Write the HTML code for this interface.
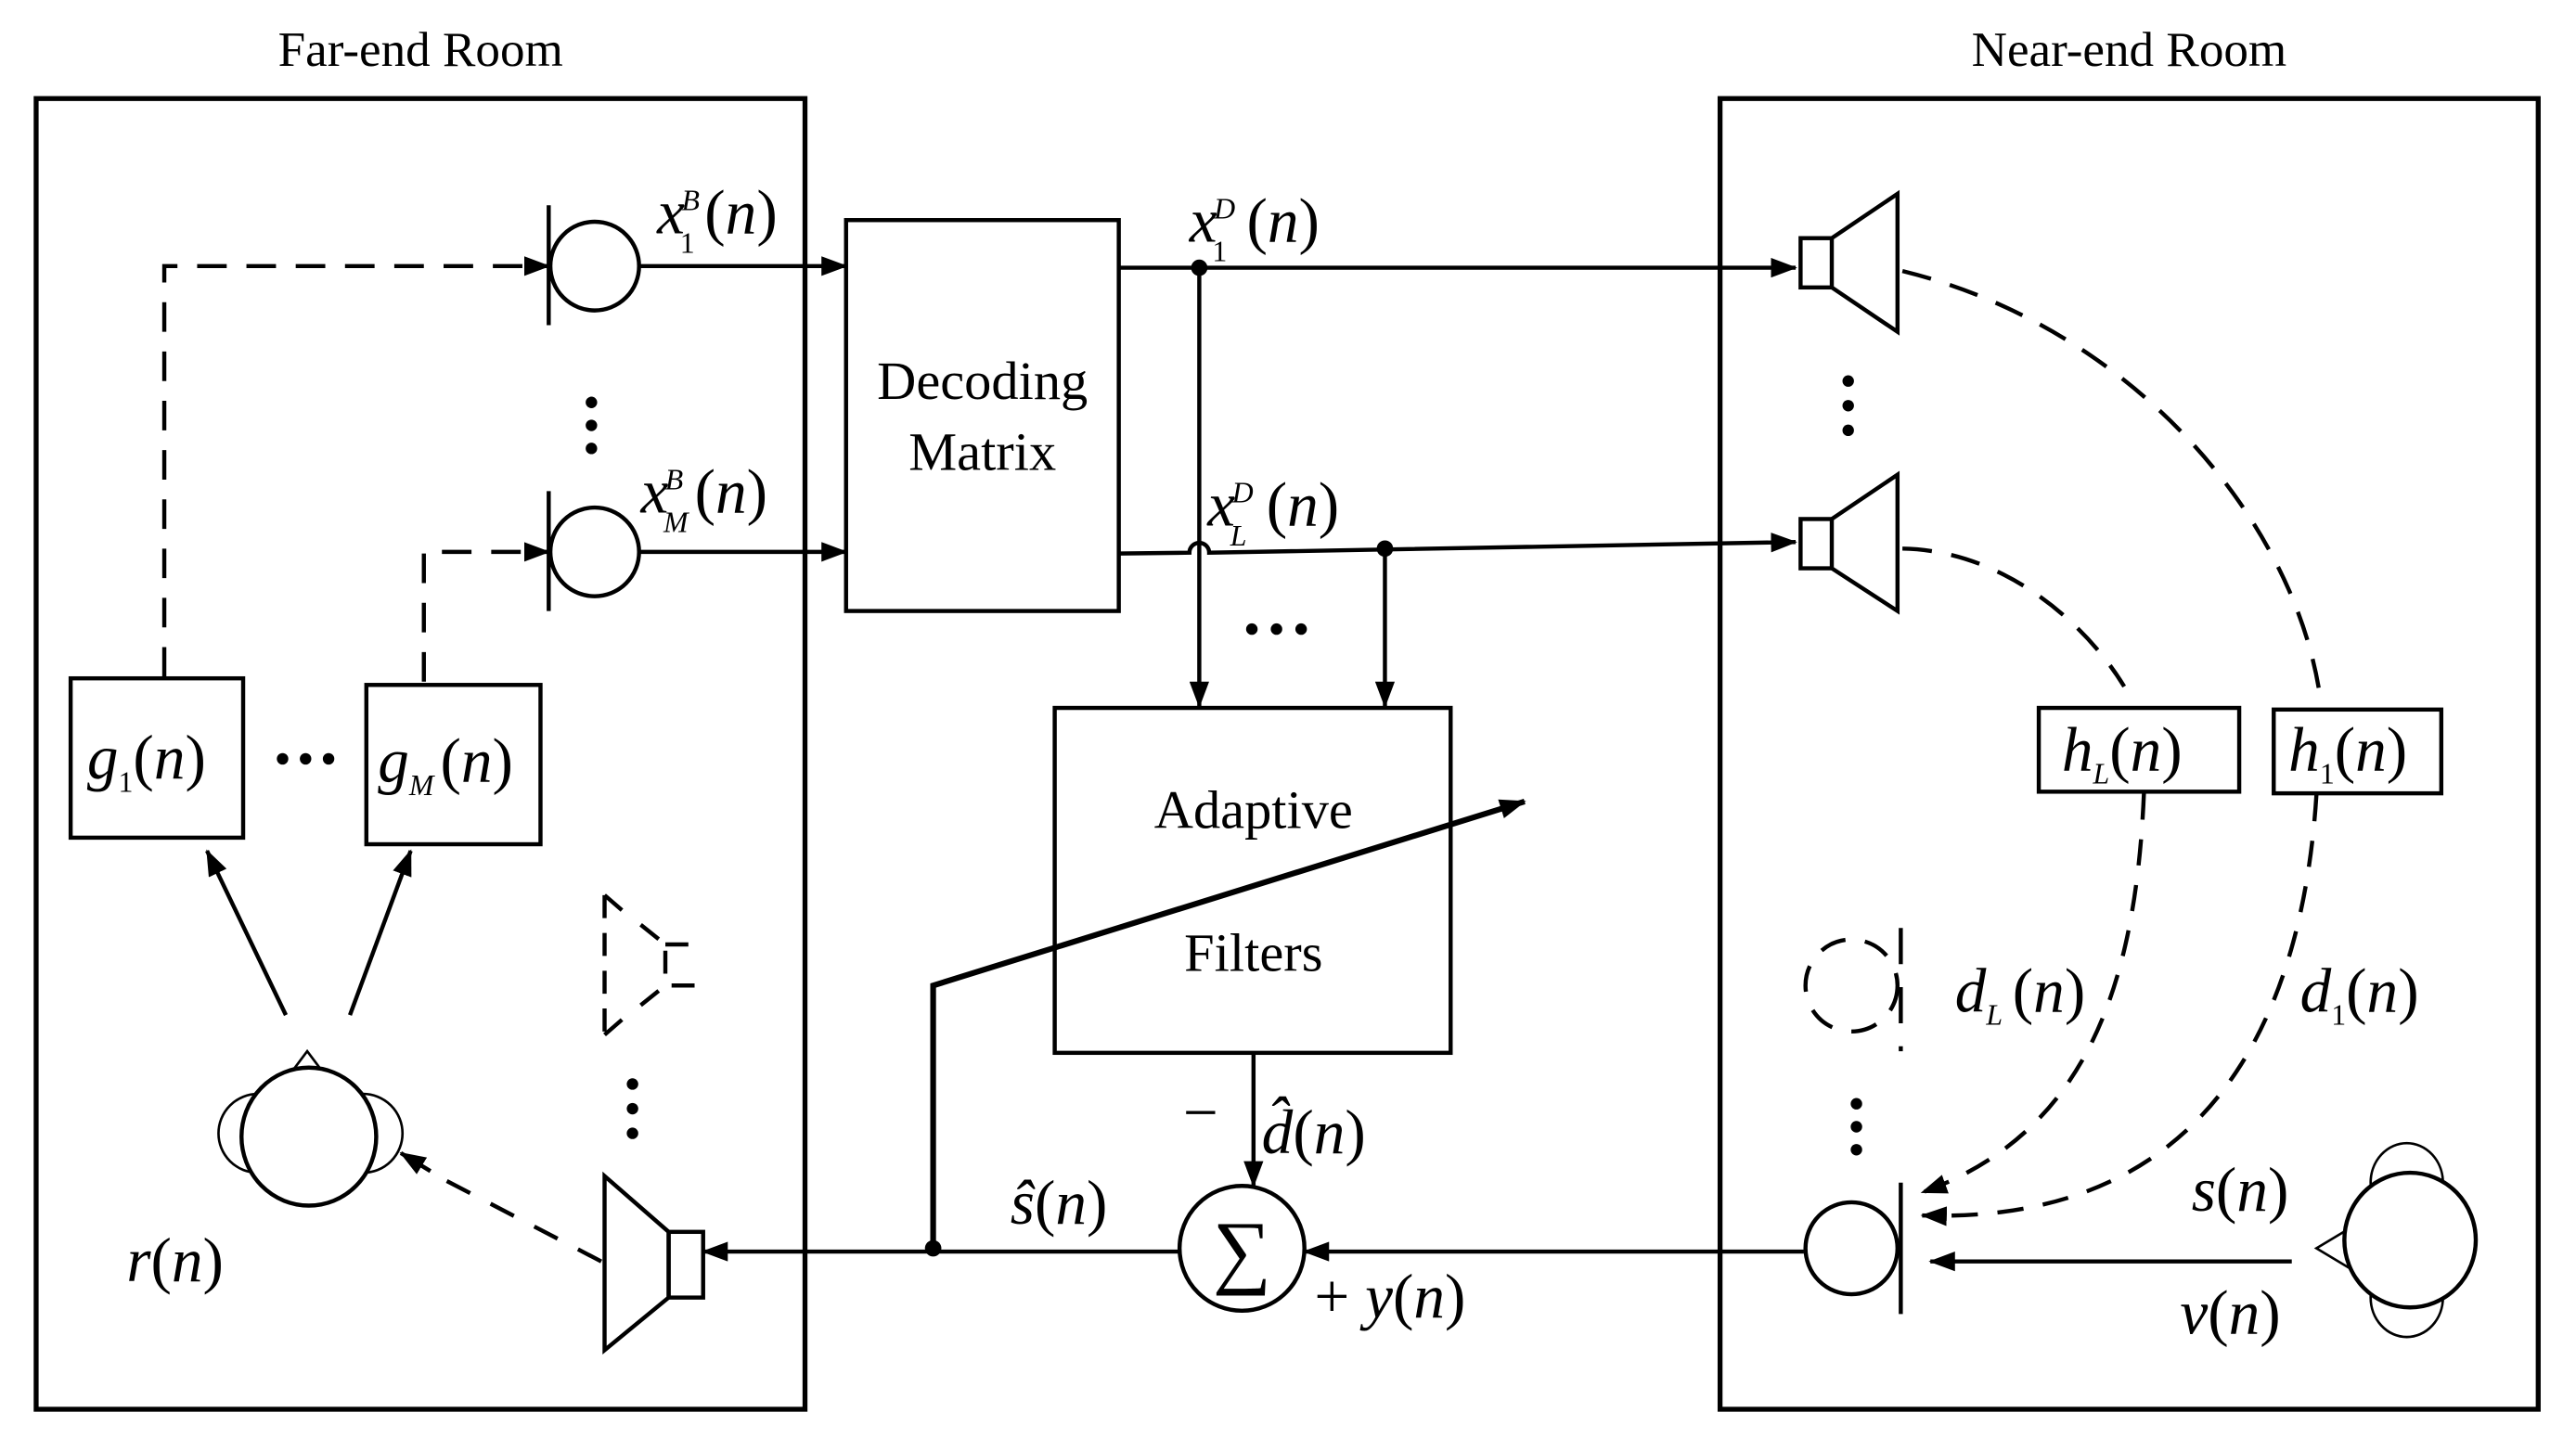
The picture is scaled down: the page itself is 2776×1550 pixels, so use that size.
<!DOCTYPE html>
<html><head><meta charset="utf-8"><style>
html,body{margin:0;padding:0;background:#fff;}
svg{display:block;}
text{font-family:"Liberation Serif","DejaVu Serif",serif;fill:#000;}
.m{font-style:italic;}
</style></head><body>
<svg width="2776" height="1550" viewBox="0 0 1568 875.5" xmlns="http://www.w3.org/2000/svg" font-family="Liberation Serif, DejaVu Serif, serif">
<defs>
<marker id="b" markerWidth="16" markerHeight="12" refX="15" refY="6" orient="auto" markerUnits="userSpaceOnUse" viewBox="0 0 16 12"><path d="M0,0 L16,6 L0,12 Z" fill="#000"/></marker>
</defs>
<g fill="none" stroke="#000" stroke-width="3">
<rect x="22" y="60" width="468" height="798"/>
<rect x="1047" y="60" width="498" height="798"/>
</g>
<text x="256" y="40" font-size="30" text-anchor="middle">Far-end Room</text>
<text x="1296" y="40" font-size="30" text-anchor="middle">Near-end Room</text>

<g fill="none" stroke="#000" stroke-width="2.5">
<line x1="334" y1="125" x2="334" y2="198"/><circle cx="362" cy="162" r="27"/>
<line x1="334" y1="299" x2="334" y2="372"/><circle cx="362" cy="336" r="27"/>
<line x1="389" y1="162" x2="515" y2="162" marker-end="url(#b)"/>
<line x1="389" y1="336" x2="515" y2="336" marker-end="url(#b)"/>
<path d="M100,412 V162 H334" stroke-dasharray="18,12" marker-end="url(#b)"/>
<path d="M258,415 V336 H334" stroke-dasharray="18,12" marker-end="url(#b)"/>
<rect x="43" y="413" width="105" height="97"/>
<rect x="223" y="417" width="106" height="97"/>
<circle cx="157" cy="690" r="24" stroke-width="1.5"/>
<circle cx="221" cy="690" r="24" stroke-width="1.5"/>
<path d="M175,656 L187,640 L199,656" stroke-width="1.5"/>
<ellipse cx="188" cy="692" rx="41" ry="42" fill="#fff"/>
<line x1="174" y1="618" x2="126" y2="518" marker-end="url(#b)"/>
<line x1="213" y1="618" x2="250" y2="518" marker-end="url(#b)"/>
<path d="M368,545 V630 M368,545 L383,558 M368,630 L383,617 M390,563 L405,575 V600 M390,612 L405,600 H428 M405,575 H428" stroke-dasharray="14,9"/>
<path d="M368,716 L407,750 V790 L368,822 Z"/>
<rect x="407" y="750" width="21" height="40"/>
<path d="M366,768 L270,718" stroke-dasharray="16,14" />
<path d="M262,713 L244,702" marker-end="url(#b)"/>
<rect x="515" y="134" width="166" height="238"/>
<line x1="681" y1="163" x2="1093" y2="163" marker-end="url(#b)"/>
<path d="M681,337 L724,336.5 A6,6 0 0 1 736,336.5 L1093,330" marker-end="url(#b)"/>
<line x1="730" y1="163" x2="730" y2="430" marker-end="url(#b)"/>
<line x1="843" y1="334" x2="843" y2="430" marker-end="url(#b)"/>
<rect x="642" y="431" width="241" height="210"/>
<path d="M568,760 V600 L928,488" stroke-width="3.5" marker-end="url(#b)"/>
<line x1="763" y1="641" x2="763" y2="722" marker-end="url(#b)"/>
<circle cx="756" cy="760" r="38"/>
<line x1="1098" y1="762" x2="794" y2="762" marker-end="url(#b)"/>
<line x1="718" y1="762" x2="428" y2="762" marker-end="url(#b)"/>
<rect x="1096" y="145" width="19" height="30"/>
<path d="M1115,145 L1155,118 V202 L1115,175"/>
<rect x="1096" y="316" width="19" height="30"/>
<path d="M1115,316 L1155,289 V372 L1115,346"/>
<path d="M1158,165 C1300,200 1400,320 1413,430" stroke-dasharray="18,12"/>
<path d="M1158,334 C1220,335 1270,380 1293,418" stroke-dasharray="18,12"/>
<rect x="1241" y="431" width="122" height="51"/>
<rect x="1384" y="432" width="102" height="51"/>
<path d="M1305,483 C1300,600 1270,690 1170,726" stroke-dasharray="16,12" marker-end="url(#b)"/>
<path d="M1410,484 C1400,640 1330,745 1170,740" stroke-dasharray="16,12" marker-end="url(#b)"/>
<circle cx="1127" cy="600" r="28" stroke-dasharray="16,12"/>
<line x1="1157" y1="565" x2="1157" y2="640" stroke-dasharray="22,14"/>
<circle cx="1127" cy="760" r="28"/>
<line x1="1157" y1="720" x2="1157" y2="800"/>
<line x1="1395" y1="768" x2="1175" y2="768" marker-end="url(#b)"/>
<ellipse cx="1465" cy="720" rx="22" ry="24" stroke-width="1.5"/>
<ellipse cx="1465" cy="790" rx="22" ry="24" stroke-width="1.5"/>
<path d="M1430,748 L1410,760 L1430,772" stroke-width="1.5"/>
<ellipse cx="1467" cy="755" rx="40" ry="41" fill="#fff"/>
</g>
<g fill="#000">
<circle cx="730" cy="163" r="5"/><circle cx="843" cy="334" r="5"/><circle cx="568" cy="760" r="5"/>
<circle cx="360" cy="245" r="3.5"/><circle cx="360" cy="259" r="3.5"/><circle cx="360" cy="273" r="3.5"/>
<circle cx="385" cy="660" r="3.5"/><circle cx="385" cy="675" r="3.5"/><circle cx="385" cy="690" r="3.5"/>
<circle cx="1125" cy="232" r="3.5"/><circle cx="1125" cy="247" r="3.5"/><circle cx="1125" cy="262" r="3.5"/>
<circle cx="1130" cy="672" r="3.5"/><circle cx="1130" cy="686" r="3.5"/><circle cx="1130" cy="700" r="3.5"/>
<circle cx="172" cy="462" r="3.5"/><circle cx="186" cy="462" r="3.5"/><circle cx="200" cy="462" r="3.5"/>
<circle cx="762" cy="383" r="3.5"/><circle cx="777" cy="383" r="3.5"/><circle cx="792" cy="383" r="3.5"/>
</g>
<text x="598" y="243" font-size="33" text-anchor="middle">Decoding</text>
<text x="598" y="286" font-size="33" text-anchor="middle">Matrix</text>
<text x="763" y="504" font-size="33" text-anchor="middle">Adaptive</text>
<text x="763" y="591" font-size="33" text-anchor="middle">Filters</text>
<text x="756" y="778" font-size="50" text-anchor="middle">∑</text>
<g font-size="38">
<text x="400" y="142"><tspan class="m">x</tspan><tspan font-size="18" dx="-2" dy="-14" class="m">B</tspan><tspan font-size="18" dx="-12" dy="26">1</tspan><tspan dy="-12" dx="6">(</tspan><tspan class="m">n</tspan>)</text>
<text x="390" y="312"><tspan class="m">x</tspan><tspan font-size="18" dx="-2" dy="-14" class="m">B</tspan><tspan font-size="18" dx="-12" dy="26" class="m">M</tspan><tspan dy="-12" dx="4">(</tspan><tspan class="m">n</tspan>)</text>
<text x="724" y="147"><tspan class="m">x</tspan><tspan font-size="18" dx="-2" dy="-14" class="m">D</tspan><tspan font-size="18" dx="-14" dy="26">1</tspan><tspan dy="-12" dx="12">(</tspan><tspan class="m">n</tspan>)</text>
<text x="735" y="320"><tspan class="m">x</tspan><tspan font-size="18" dx="-2" dy="-14" class="m">D</tspan><tspan font-size="18" dx="-14" dy="26" class="m">L</tspan><tspan dy="-12" dx="12">(</tspan><tspan class="m">n</tspan>)</text>
<text x="53" y="474"><tspan class="m">g</tspan><tspan font-size="18" dy="8">1</tspan><tspan dy="-8">(</tspan><tspan class="m">n</tspan>)</text>
<text x="230" y="476"><tspan class="m">g</tspan><tspan font-size="18" dy="8" class="m">M</tspan><tspan dy="-8" dx="4">(</tspan><tspan class="m">n</tspan>)</text>
<text x="77" y="780"><tspan class="m">r</tspan>(<tspan class="m">n</tspan>)</text>
<text x="615" y="745"><tspan class="m">ŝ</tspan>(<tspan class="m">n</tspan>)</text>
<text x="720" y="690">−</text>
<text x="768" y="702"><tspan class="m">d̂</tspan>(<tspan class="m">n</tspan>)</text>
<text x="800" y="802">+ <tspan class="m">y</tspan>(<tspan class="m">n</tspan>)</text>
<text x="1255" y="469"><tspan class="m">h</tspan><tspan font-size="18" dy="8" class="m">L</tspan><tspan dy="-8">(</tspan><tspan class="m">n</tspan>)</text>
<text x="1393" y="469"><tspan class="m">h</tspan><tspan font-size="18" dy="8">1</tspan><tspan dy="-8">(</tspan><tspan class="m">n</tspan>)</text>
<text x="1190" y="616"><tspan class="m">d</tspan><tspan font-size="18" dy="8" class="m">L</tspan><tspan dy="-8" dx="6">(</tspan><tspan class="m">n</tspan>)</text>
<text x="1400" y="616"><tspan class="m">d</tspan><tspan font-size="18" dy="8">1</tspan><tspan dy="-8">(</tspan><tspan class="m">n</tspan>)</text>
<text x="1334" y="737"><tspan class="m">s</tspan>(<tspan class="m">n</tspan>)</text>
<text x="1327" y="812"><tspan class="m">v</tspan>(<tspan class="m">n</tspan>)</text>
</g>
</svg>
</body></html>
